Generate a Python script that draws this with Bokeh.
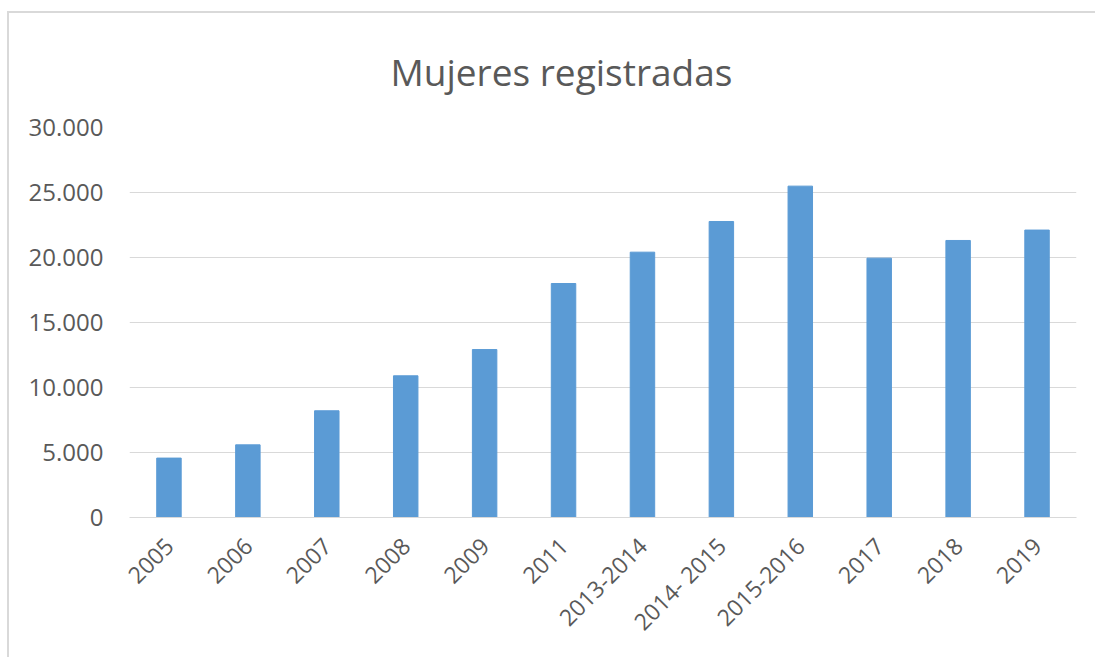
from bokeh.plotting import figure
from bokeh.models import FixedTicker, ColumnDataSource
from bokeh.embed import file_html
from bokeh.resources import INLINE

categories = ["2005", "2006", "2007", "2008", "2009", "2011", "2013-2014",
              "2014- 2015", "2015-2016", "2017", "2018", "2019"]
mujeres = [4570, 5590, 8210, 10900, 12920, 18000, 20410, 22770, 25490, 19950, 21310, 22110]
y_ticks = [0, 5000, 10000, 15000, 20000, 25000, 30000]
y_tick_labels = ["0", "5.000", "10.000", "15.000", "20.000", "25.000", "30.000"]

src = ColumnDataSource(dict(cat=categories, val=mujeres))

p = figure(x_range=categories, y_range=(0, 30000), width=1088, height=646,
           output_backend="svg", toolbar_location=None,
           title="Mujeres registradas",
           min_border_left=120, min_border_right=21, min_border_top=114, min_border_bottom=142)

p.vbar(x="cat", top="val", width=0.31, source=src, fill_color="#5B9BD5", line_color="#5B9BD5")

p.title.align = "left"
p.title.offset = 261
p.title.text_font = "Open Sans"
p.title.text_font_style = "normal"
p.title.text_font_size = "37px"
p.title.text_color = "#595959"
p.title.standoff = 61

p.outline_line_color = None
p.xgrid.grid_line_color = None
p.ygrid.grid_line_color = "#d9d9d9"
p.ygrid.grid_line_width = 1

p.yaxis.ticker = FixedTicker(ticks=y_ticks)
p.yaxis.major_label_overrides = {t: l for t, l in zip(y_ticks, y_tick_labels)}
p.yaxis.axis_line_color = None
p.yaxis.major_tick_line_color = None
p.yaxis.minor_tick_line_color = None
p.yaxis.major_label_text_font = "Open Sans"
p.yaxis.major_label_text_font_size = "24px"
p.yaxis.major_label_text_color = "#595959"
p.yaxis.major_label_standoff = 20

p.xaxis.axis_line_color = "#d9d9d9"
p.xaxis.major_tick_line_color = None
p.xaxis.minor_tick_line_color = None
p.xaxis.major_label_orientation = 0.785398
p.xaxis.major_label_text_font = "Open Sans"
p.xaxis.major_label_text_font_size = "23px"
p.xaxis.major_label_text_color = "#595959"
p.xaxis.major_label_standoff = 18

p.styles = {"margin-left": "7px", "margin-top": "11px",
            "border-left": "2px solid #d9d9d9", "border-top": "2px solid #d9d9d9"}

open("out.html", "w").write(file_html(p, INLINE))
